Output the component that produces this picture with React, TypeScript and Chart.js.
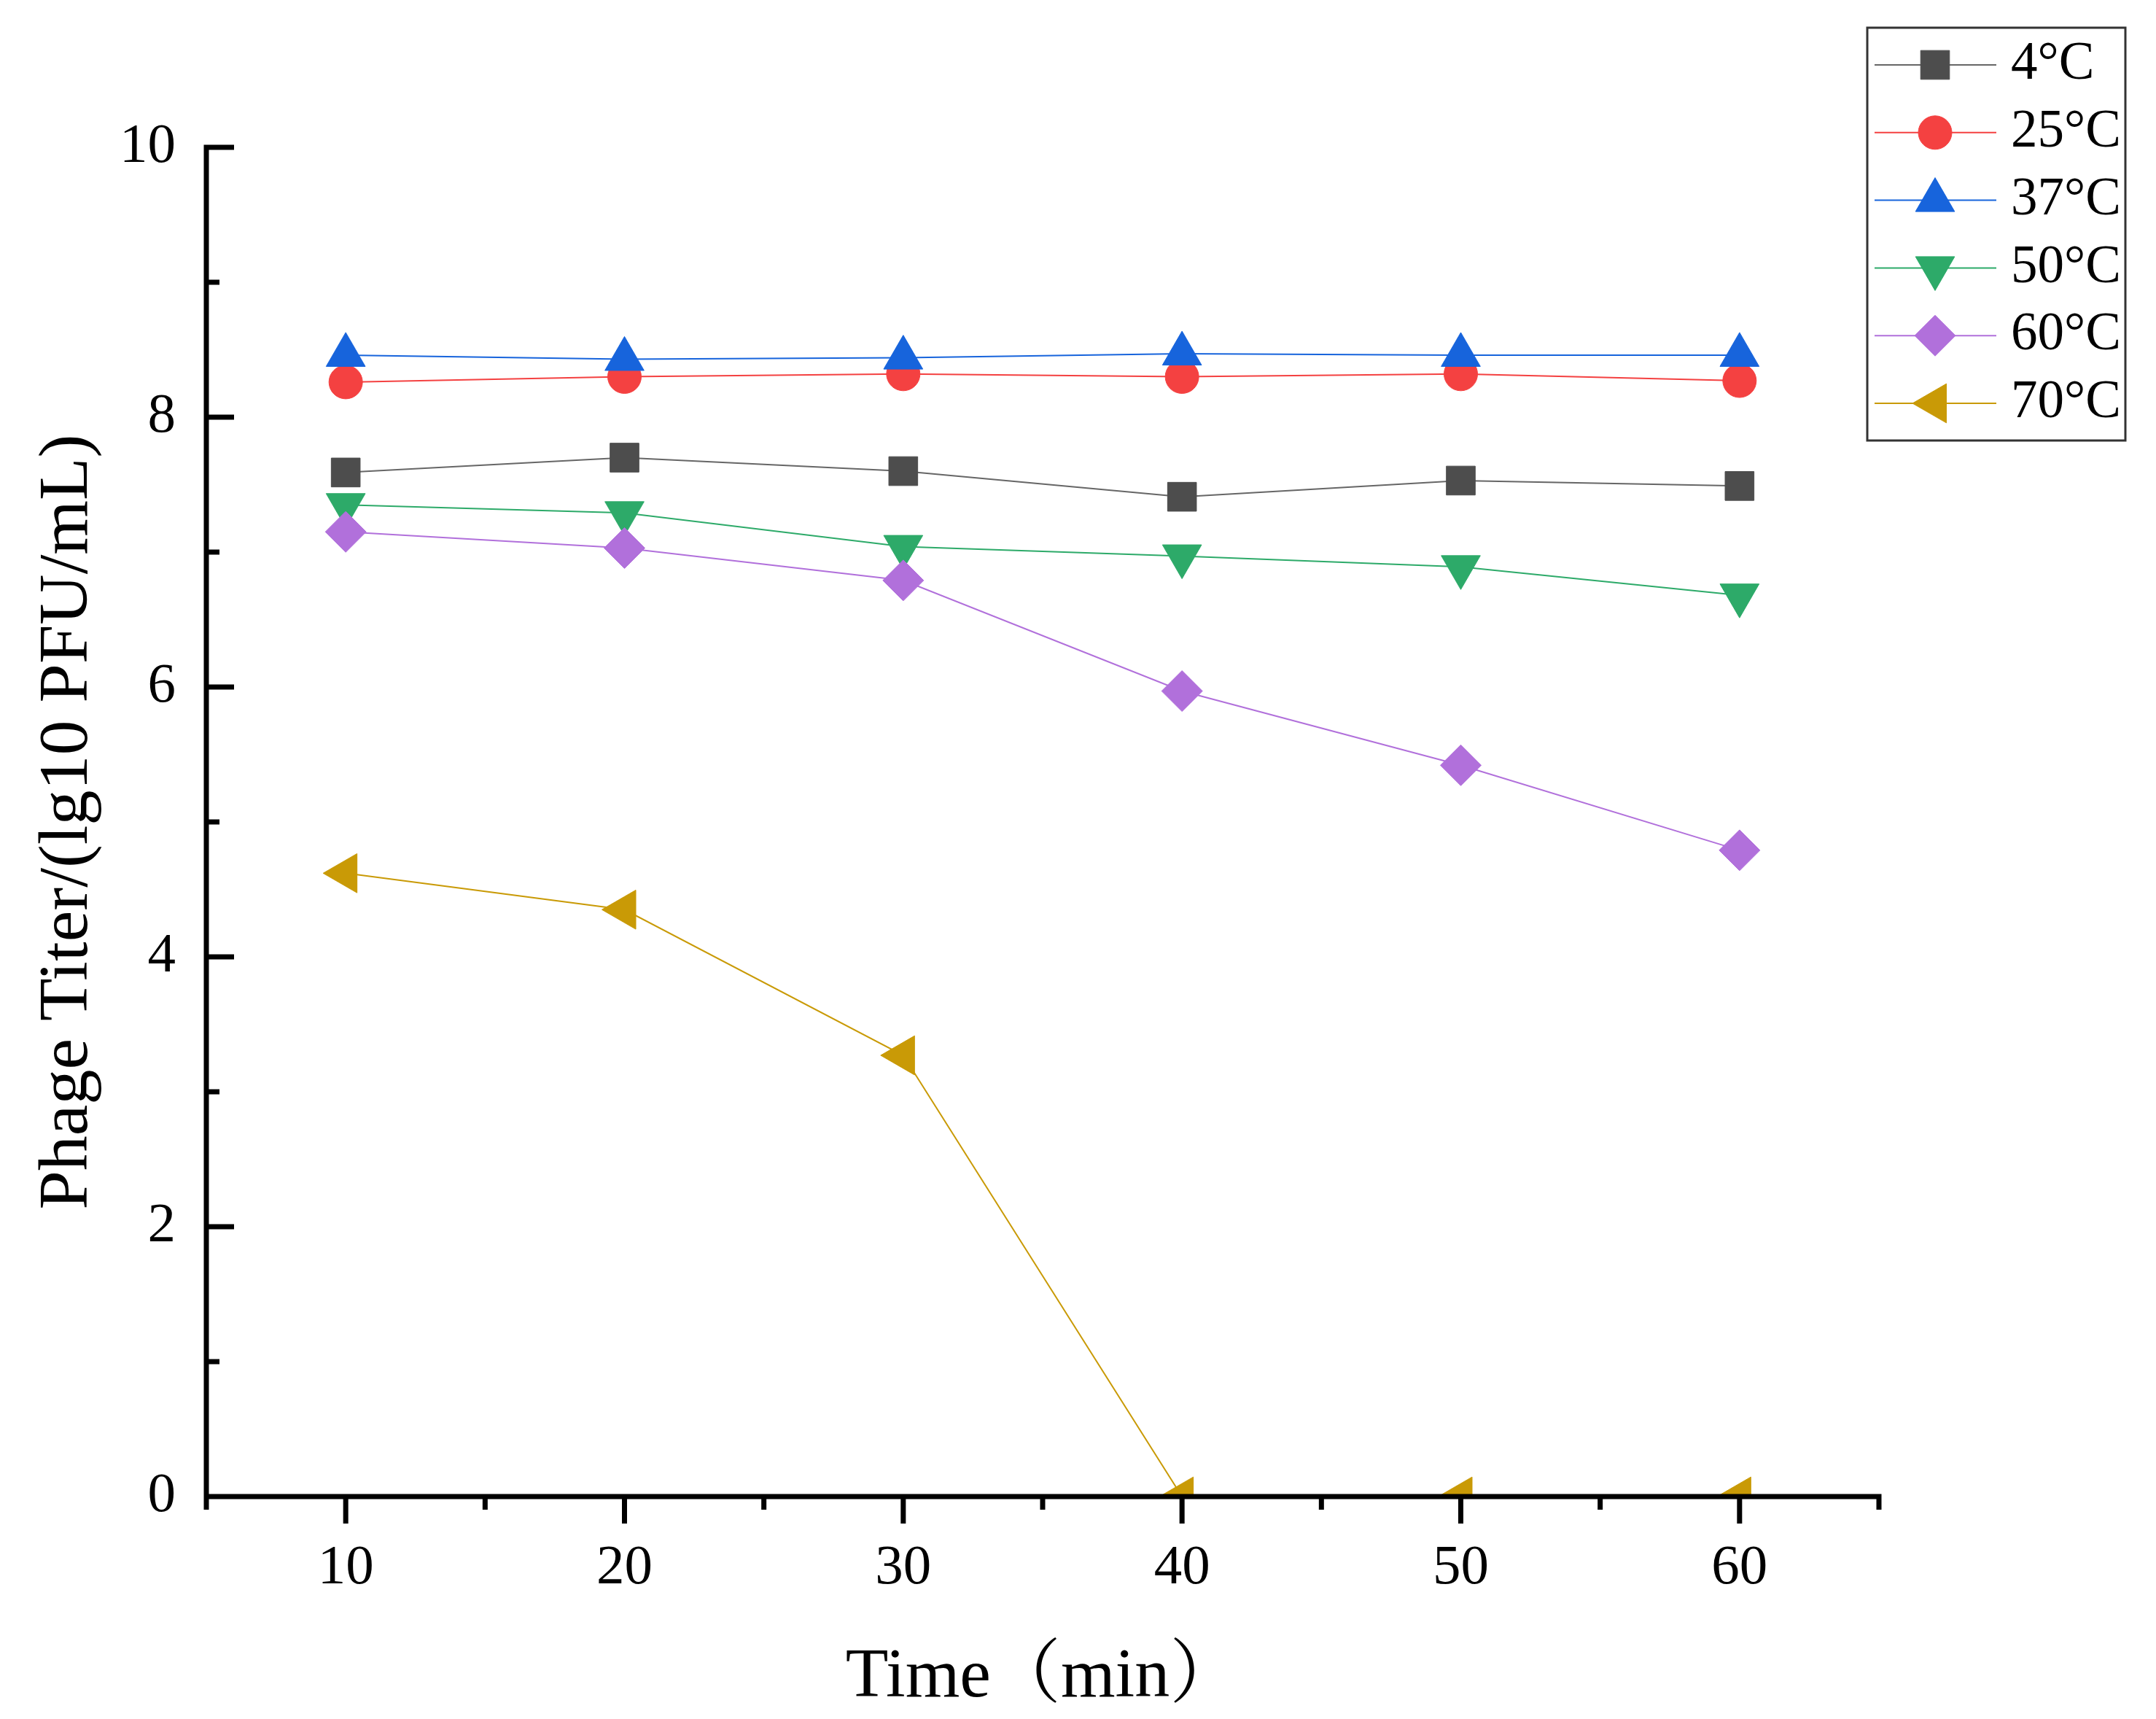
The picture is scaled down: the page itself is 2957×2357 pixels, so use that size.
import React, { useEffect, useRef } from 'react';
import Chart from 'chart.js/auto';
import { drawPoint } from 'chart.js/helpers';

// sampling times (min)
const times = [10, 20, 30, 40, 50, 60];

// phage titer, lg10 PFU/mL
const labels = ['4°C', '25°C', '37°C', '50°C', '60°C', '70°C'];
const t4 = [7.59, 7.7, 7.6, 7.41, 7.53, 7.49];
const t25 = [8.26, 8.3, 8.32, 8.3, 8.32, 8.27];
const t37 = [8.46, 8.43, 8.44, 8.47, 8.46, 8.46];
const t50 = [7.35, 7.29, 7.04, 6.97, 6.89, 6.68];
const t60 = [7.15, 7.03, 6.79, 5.97, 5.42, 4.79];
const t70 = [4.62, 4.35, 3.27, 0, 0, 0];

const colors = ['#4D4D4D', '#F44141', '#1764DC', '#2DAA69', '#B170DB', '#C99A06'];
const lineColors = ['#666666', '#F44141', '#1764DC', '#2DAA69', '#B170DB', '#C99A06'];
const pointStyles = ['rect', 'circle', 'triangle', 'triangle', 'rectRot', 'triangle'];
const pointRotations = [0, 0, 0, 180, 0, -90];
const pointRadii = [28, 23, 31, 31, 28, 31];

const xMajorTicks = [10, 20, 30, 40, 50, 60];
const xMinorTicks = [5, 15, 25, 35, 45, 55, 65];
const yMajorTicks = [0, 2, 4, 6, 8, 10];
const yMinorTicks = [1, 3, 5, 7, 9];

const FONT = "'Liberation Serif', 'Times New Roman', 'Noto Serif CJK SC', 'Noto Sans CJK SC', serif";

// Origin-style axes: y ticks point in, x ticks point out, minor ticks are shorter
const axesPlugin = {
  id: 'originAxes',
  afterDatasetsDraw(chart: any) {
    const { ctx, chartArea, scales } = chart;
    const { left, right, top, bottom } = chartArea;
    const half = 3.5;
    ctx.save();
    ctx.strokeStyle = '#000';
    ctx.lineWidth = 7;
    ctx.lineCap = 'butt';
    ctx.beginPath();
    ctx.moveTo(left, top - half);
    ctx.lineTo(left, bottom);
    ctx.moveTo(left - half, bottom);
    ctx.lineTo(right + half, bottom);
    yMajorTicks.forEach(v => {
      const p = scales.y.getPixelForValue(v);
      ctx.moveTo(left, p);
      ctx.lineTo(left + 38, p);
    });
    yMinorTicks.forEach(v => {
      const p = scales.y.getPixelForValue(v);
      ctx.moveTo(left, p);
      ctx.lineTo(left + 18, p);
    });
    xMajorTicks.forEach(v => {
      const p = scales.x.getPixelForValue(v);
      ctx.moveTo(p, bottom);
      ctx.lineTo(p, bottom + 37);
    });
    xMinorTicks.forEach(v => {
      const p = scales.x.getPixelForValue(v);
      ctx.moveTo(p, bottom);
      ctx.lineTo(p, bottom + 18);
    });
    ctx.stroke();
    ctx.restore();
  }
};

// boxed legend in the top right corner
const legendPlugin = {
  id: 'boxLegend',
  afterDraw(chart: any) {
    const { ctx } = chart;
    const boxX = 2561, boxY = 38, boxW = 354, boxH = 566;
    const rowY = 89, rowGap = 92.8;
    ctx.save();
    ctx.lineWidth = 3;
    ctx.strokeStyle = '#333';
    ctx.strokeRect(boxX, boxY, boxW, boxH);
    chart.data.datasets.forEach((ds: any, i: number) => {
      const cy = rowY + i * rowGap;
      ctx.strokeStyle = ds.borderColor;
      ctx.lineWidth = 2;
      ctx.beginPath();
      ctx.moveTo(boxX + 10, cy);
      ctx.lineTo(boxX + 177, cy);
      ctx.stroke();
      ctx.fillStyle = ds.pointBackgroundColor;
      ctx.strokeStyle = ds.pointBorderColor;
      ctx.lineWidth = 1;
      drawPoint(ctx, {
        pointStyle: ds.pointStyle,
        rotation: ds.pointRotation,
        radius: ds.pointRadius,
        borderWidth: 1
      }, boxX + 93, cy);
      ctx.fillStyle = '#000';
      ctx.font = `73px ${FONT}`;
      ctx.textAlign = 'left';
      ctx.textBaseline = 'middle';
      ctx.fillText(ds.label, boxX + 197, cy);
    });
    ctx.restore();
  }
};

const App: React.FC = () => {
  const canvasRef = useRef<HTMLCanvasElement>(null);

  useEffect(() => {
    document.body.style.margin = '0';
    if (!canvasRef.current) return;

    const series = [t4, t25, t37, t50, t60, t70];

    const chart = new Chart(canvasRef.current, {
      type: 'line',
      data: {
        datasets: series.map((vals, i) => ({
          label: labels[i],
          data: vals.map((v, j) => ({ x: times[j], y: v })),
          borderColor: lineColors[i],
          backgroundColor: colors[i],
          pointBackgroundColor: colors[i],
          pointBorderColor: colors[i],
          borderWidth: 2,
          pointStyle: pointStyles[i],
          pointRotation: pointRotations[i],
          pointRadius: pointRadii[i],
          pointBorderWidth: 1,
          tension: 0,
          order: series.length - 1 - i
        })) as any
      },
      options: {
        animation: false,
        responsive: true,
        maintainAspectRatio: false,
        events: [],
        layout: {
          padding: { top: 202, right: 380, left: 0, bottom: 0 }
        },
        plugins: {
          legend: { display: false },
          tooltip: { enabled: false }
        },
        scales: {
          x: {
            type: 'linear',
            min: 5,
            max: 65,
            grid: { display: false, drawTicks: false },
            border: { display: false },
            afterBuildTicks: (s: any) => {
              s.ticks = xMajorTicks.map(v => ({ value: v }));
            },
            afterFit: (s: any) => {
              s.height = 305;
            },
            ticks: {
              color: '#000',
              font: { family: FONT, size: 77, lineHeight: 1 },
              padding: 60,
              maxRotation: 0,
              autoSkip: false
            },
            title: {
              display: true,
              text: 'Time（min）',
              color: '#000',
              font: { family: FONT, size: 96, lineHeight: 1 },
              padding: { top: 0, bottom: 8 }
            }
          },
          y: {
            type: 'linear',
            min: 0,
            max: 10,
            grid: { display: false, drawTicks: false },
            border: { display: false },
            afterBuildTicks: (s: any) => {
              s.ticks = yMajorTicks.map(v => ({ value: v }));
            },
            afterFit: (s: any) => {
              s.width = 283;
            },
            ticks: {
              color: '#000',
              font: { family: FONT, size: 77, lineHeight: 1 },
              padding: 42
            },
            title: {
              display: true,
              text: 'Phage Titer/(lg10 PFU/mL)',
              color: '#000',
              font: { family: FONT, size: 96, lineHeight: 1 },
              padding: { top: 46, bottom: 0 }
            }
          }
        }
      },
      plugins: [axesPlugin, legendPlugin]
    });

    return () => {
      chart.destroy();
    };
  }, []);

  return (
    <div style={{ width: 2957, height: 2357, position: 'relative', background: '#fff' }}>
      <canvas ref={canvasRef}></canvas>
    </div>
  );
};

export default App;
